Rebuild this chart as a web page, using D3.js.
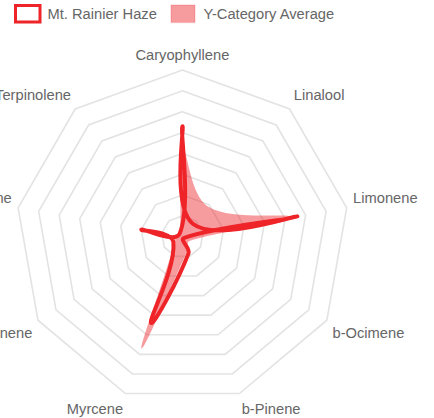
<!DOCTYPE html>
<html>
<head>
<meta charset="utf-8">
<script src="https://cdnjs.cloudflare.com/ajax/libs/d3/7.8.5/d3.min.js"></script>
<style>
  html, body { margin: 0; padding: 0; background: #fff; }
  svg { display: block; }
  text { font-family: "Liberation Sans", Arial, sans-serif; fill: #666; }
</style>
</head>
<body>
<svg id="chart" width="434" height="418"></svg>
<script>
// terpene axes, clockwise from the top
const terpenes = ['Caryophyllene', 'Linalool', 'Limonene', 'b-Ocimene', 'b-Pinene',
  'Myrcene', 'a-Pinene', 'Humulene', 'Terpinolene'];
const strainValues = [0.53, 0.08, 0.56, 0.01, 0.085, 0.44, 0.05, 0.2, 0.02];
const averageValues = [0.42, 0.19, 0.53, 0.04, 0.07, 0.57, 0.04, 0.04, 0.02];
const ringTicks = [0.1, 0.2, 0.3, 0.4, 0.5, 0.6, 0.7, 0.8];
const seriesNames = ['Mt. Rainier Haze', 'Y-Category Average'];

const red = 'rgb(238, 36, 40)';
const pink = 'rgba(238, 36, 40, 0.45)';

const svg = d3.select('#chart');
const cx = 182.4, cy = 236.8, radius = 166.8;
const fontSize = 14.7;

const r = d3.scaleLinear().domain([0, 0.8]).range([0, radius]);
const angle = d3.scaleLinear().domain([0, terpenes.length]).range([0, 2 * Math.PI]);

const toXY = (i, v) => [cx + Math.sin(angle(i)) * r(v), cy - Math.cos(angle(i)) * r(v)];

// rings
const g = svg.append('g');
g.selectAll('polygon.ring')
  .data(ringTicks)
  .enter()
  .append('polygon')
  .attr('class', 'ring')
  .attr('points', t => terpenes.map((_, i) => toXY(i, t).join(',')).join(' '))
  .style('fill', 'none')
  .style('stroke', '#e3e3e3')
  .style('stroke-width', 1.6);

// spline like chart.js (tension 0.4)
function splinePath(values, tension) {
  const pts = values.map((v, i) => toXY(i, v));
  const n = pts.length;
  const cps = pts.map((p, i) => {
    const prev = pts[(i - 1 + n) % n], next = pts[(i + 1) % n];
    const d01 = Math.hypot(p[0] - prev[0], p[1] - prev[1]);
    const d12 = Math.hypot(next[0] - p[0], next[1] - p[1]);
    const s01 = d01 / (d01 + d12) || 0, s12 = d12 / (d01 + d12) || 0;
    const fa = tension * s01, fb = tension * s12;
    const dx = next[0] - prev[0], dy = next[1] - prev[1];
    return { before: [p[0] - fa * dx, p[1] - fa * dy], after: [p[0] + fb * dx, p[1] + fb * dy] };
  });
  const path = d3.path();
  path.moveTo(pts[0][0], pts[0][1]);
  for (let i = 1; i <= n; i++) {
    const j = i % n;
    path.bezierCurveTo(cps[i - 1].after[0], cps[i - 1].after[1], cps[j].before[0], cps[j].before[1], pts[j][0], pts[j][1]);
  }
  path.closePath();
  return path.toString();
}

// average (drawn first)
g.append('path')
  .attr('d', splinePath(averageValues, 0.4))
  .style('fill', pink)
  .style('stroke', 'none');

// strain line
g.append('path')
  .attr('d', splinePath(strainValues, 0.4))
  .style('fill', 'none')
  .style('stroke', red)
  .style('stroke-width', 4)
  .style('stroke-linejoin', 'round');

// point labels
const labelR = radius + 6.5;
g.selectAll('text.label')
  .data(terpenes)
  .enter()
  .append('text')
  .attr('class', 'label')
  .attr('x', (d, i) => cx + Math.sin(angle(i)) * labelR)
  .attr('y', (d, i) => {
    const c = Math.cos(angle(i));
    return cy - c * labelR + (c > 0.01 ? -9 : c < -0.01 ? 9 : 0);
  })
  .attr('dy', '0.35em')
  .attr('text-anchor', (d, i) => {
    const s = Math.sin(angle(i));
    return s > 0.01 ? 'start' : s < -0.01 ? 'end' : 'middle';
  })
  .style('font-size', fontSize + 'px')
  .text(d => d);

// legend
const legend = svg.append('g');
legend.append('rect')
  .attr('x', 15.5).attr('y', 5.5).attr('width', 24.5).attr('height', 16.5)
  .style('fill', '#fff').style('stroke', red).style('stroke-width', 3);
legend.append('text')
  .attr('x', 47.5).attr('y', 13.5).attr('dy', '0.35em')
  .style('font-size', fontSize + 'px')
  .text(seriesNames[0]);
legend.append('rect')
  .attr('x', 171).attr('y', 5).attr('width', 24).attr('height', 17.5)
  .style('fill', pink).style('stroke', 'rgba(238, 36, 40, 0.15)').style('stroke-width', 1.5);
legend.append('text')
  .attr('x', 203.5).attr('y', 13.5).attr('dy', '0.35em')
  .style('font-size', fontSize + 'px')
  .text(seriesNames[1]);
</script>
</body>
</html>
